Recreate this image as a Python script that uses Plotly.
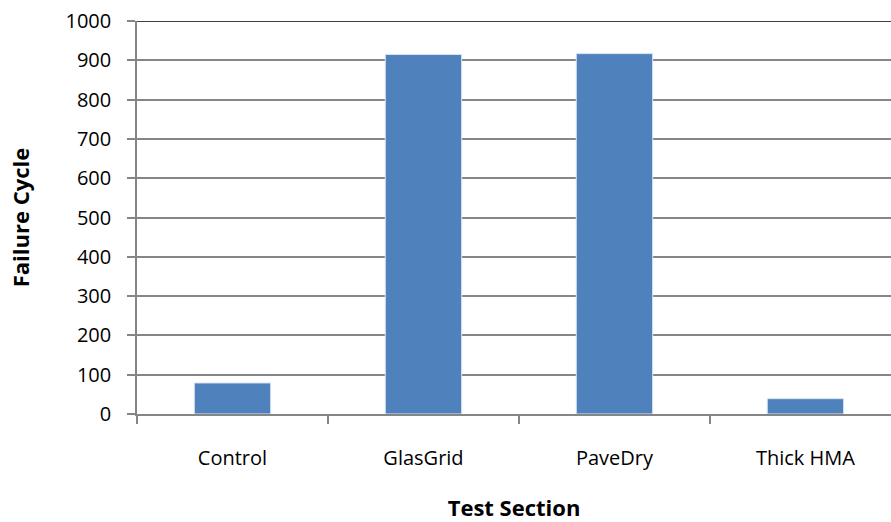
import plotly.graph_objects as go

categories = ["Control", "GlasGrid", "PaveDry", "Thick HMA"]
failure_cycles = [79, 915, 917, 39]
y_ticks = [0, 100, 200, 300, 400, 500, 600, 700, 800, 900, 1000]

font_family = "Open Sans, Liberation Sans, Arial, sans-serif"

fig = go.Figure()
fig.add_trace(go.Bar(
    x=categories, y=failure_cycles,
    marker=dict(color="#4F81BD", line=dict(color="#DCE6F2", width=1)),
    width=0.4,
))

fig.update_layout(
    width=891, height=522,
    margin=dict(l=137, r=0, t=21, b=108),
    paper_bgcolor="white", plot_bgcolor="white",
    showlegend=False,
    font=dict(family=font_family, size=20, color="black"),
)
fig.update_yaxes(
    range=[0, 1000], tickvals=y_ticks,
    showgrid=True, gridcolor="#868686", gridwidth=1.5,
    showline=True, linecolor="#868686", linewidth=1.5,
    ticks="outside", ticklen=8, tickcolor="#868686", tickwidth=1.5,
    zeroline=False,
    ticklabelstandoff=12,
    title=dict(text="<b>Failure Cycle</b>", font=dict(size=22, family=font_family), standoff=30),
    tickfont=dict(size=20),
)
fig.update_xaxes(
    range=[-0.5, 3.448],
    showline=True, linecolor="#868686", linewidth=1.5,
    ticks="outside", ticklen=8, tickcolor="#868686", tickwidth=1.5,
    tickson="boundaries",
    ticklabelstandoff=25,
    title=dict(text="<b>Test Section</b>", font=dict(size=22, family=font_family), standoff=34),
    tickfont=dict(size=20),
)
fig.add_shape(type="line", xref="paper", yref="y", x0=0, x1=1, y0=1000, y1=1000,
              line=dict(color="black", width=1.5))

fig.write_html("out.html", config={"displayModeBar": False},
               post_script="document.body.style.margin='0px';document.body.style.padding='0px';")
